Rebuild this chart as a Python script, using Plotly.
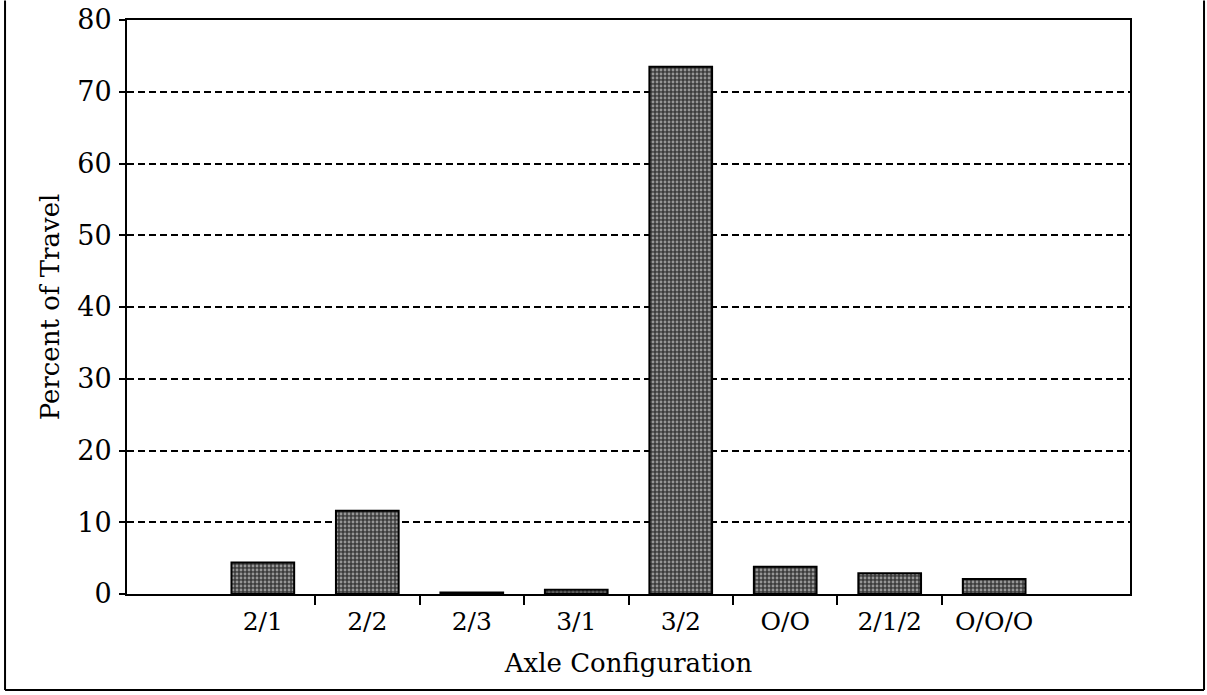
import plotly.graph_objects as go

# Anteil der Fahrleistung je Achskonfiguration
categories = ["2/1", "2/2", "2/3", "3/1", "3/2", "O/O", "2/1/2", "O/O/O"]
percent_travel = [4.4, 11.6, 0.2, 0.6, 73.5, 3.8, 2.9, 2.1]

positions = list(range(len(categories)))
boundaries = [p + 0.5 for p in positions[:-1]]

fig = go.Figure()

fig.add_trace(go.Bar(
    x=positions, y=percent_travel, width=0.6,
    marker=dict(color="#6a6a6a", line=dict(color="black", width=2),
                pattern=dict(shape=".", fgcolor="#f0f0f0", bgcolor="#3c3c3c", size=4, solidity=0.4)),
    showlegend=False))

font = "DejaVu Serif"

fig.update_layout(
    width=1207, height=695,
    margin=dict(l=127, r=77, t=20, b=101),
    paper_bgcolor="white", plot_bgcolor="white",
    font=dict(family=font, size=26, color="black"),
)

fig.update_xaxes(
    range=[-1.3, 8.3], tickvals=positions, ticktext=categories, ticks="",
    showline=True, linecolor="black", linewidth=2, mirror=True,
    showgrid=False, zeroline=False, automargin=False,
    minor=dict(tickvals=boundaries, ticks="outside", ticklen=9, tickwidth=2, tickcolor="black", showgrid=False),
    tickfont=dict(size=25), ticklabelstandoff=4,
    title=dict(text="Axle Configuration", standoff=19, font=dict(size=26)),
)

fig.update_yaxes(
    range=[0, 80], dtick=10, ticks="outside", ticklen=6, tickwidth=2, tickcolor="black",
    showline=True, linecolor="black", linewidth=2, mirror=True,
    showgrid=True, gridcolor="black", gridwidth=2, griddash="7px,4px", zeroline=False,
    automargin=False, tickfont=dict(size=27), ticklabelstandoff=2, ticklabeloverflow="allow",
    title=dict(text="Percent of Travel", standoff=10, font=dict(size=26)),
)

# äußerer Rahmen (links, rechts, unten)
fig.add_shape(type="line", xref="paper", yref="paper", x0=-0.1216, x1=-0.1216, y0=-0.1672, y1=1.034,
              line=dict(color="black", width=2))
fig.add_shape(type="line", xref="paper", yref="paper", x0=1.0738, x1=1.0738, y0=-0.1672, y1=1.034,
              line=dict(color="black", width=2))
fig.add_shape(type="line", xref="paper", yref="paper", x0=-0.1216, x1=1.0738, y0=-0.1672, y1=-0.1672,
              line=dict(color="black", width=2))

# Browser-Rand entfernen, damit die Figur genau ins Fenster passt
fig.write_html("out.html", config={"displayModeBar": False},
               post_script="document.body.style.margin='0';")
